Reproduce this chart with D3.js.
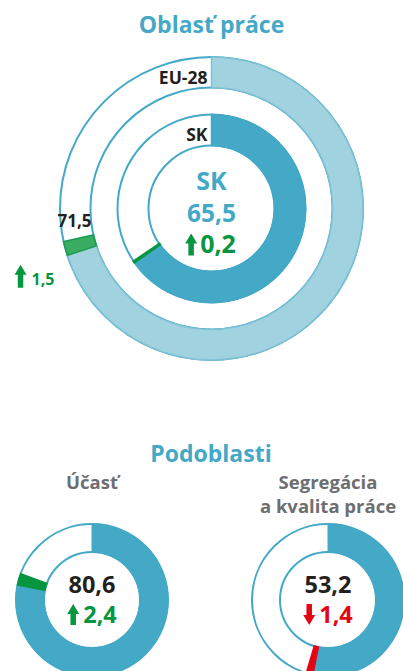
<!DOCTYPE html>
<html>
<head>
<meta charset="utf-8">
<script src="https://cdn.jsdelivr.net/npm/d3@7"></script>
<style>
  body { margin: 0; background: #fff; }
  text { font-family: "Open Sans", sans-serif; font-weight: 700; }
</style>
</head>
<body>
<svg width="403" height="671"></svg>
<script>
// data
var regions = ["EU-28", "SK"];
var areaValues = [71.5, 65.5];
var areaChanges = [1.5, 0.2];

var subNames = [["Účasť"], ["Segregácia", "a kvalita práce"]];
var subValues = [80.6, 53.2];
var subChanges = [2.4, -1.4];

var blue = "#44a8c7",
    lightBlue = "#a1d2e0",
    green = "#05963f",
    red = "#e30613",
    grey = "#6d6e71",
    dark = "#231f20";

var svg = d3.select("svg");
var fmt = d3.formatLocale({decimal: ",", thousands: " ", grouping: [3], currency: ["", ""]}).format(".1f");

// percent -> angle
var angle = d3.scaleLinear().domain([0, 100]).range([0, 2 * Math.PI]);

function arrowPath(x, bottom, h, up) {
  var w = 12, hh = 10, sw = 5.5;
  var top = bottom - h;
  if (up) {
    return "M" + (x + w / 2) + "," + top + "L" + (x + w) + "," + (top + hh) +
      "L" + (x + w / 2 + sw / 2) + "," + (top + hh) + "L" + (x + w / 2 + sw / 2) + "," + bottom +
      "L" + (x + w / 2 - sw / 2) + "," + bottom + "L" + (x + w / 2 - sw / 2) + "," + (top + hh) +
      "L" + x + "," + (top + hh) + "Z";
  }
  return "M" + (x + w / 2) + "," + bottom + "L" + (x + w) + "," + (bottom - hh) +
    "L" + (x + w / 2 + sw / 2) + "," + (bottom - hh) + "L" + (x + w / 2 + sw / 2) + "," + top +
    "L" + (x + w / 2 - sw / 2) + "," + top + "L" + (x + w / 2 - sw / 2) + "," + (bottom - hh) +
    "L" + x + "," + (bottom - hh) + "Z";
}

// arrow + number, centred on x (or starting at x when anchor = "start")
function changeLabel(g, x, y, change, size, h, gap, anchor) {
  var col = change >= 0 ? green : red;
  var t = g.append("text").attr("y", y).attr("font-size", size).attr("fill", col)
    .text(fmt(Math.abs(change)));
  var tw = t.node().getComputedTextLength();
  var total = 12 + gap + tw;
  var x0 = anchor === "start" ? x : x - total / 2;
  t.attr("x", x0 + 12 + gap);
  g.append("path").attr("d", arrowPath(x0, y + 2.5, h, change >= 0)).attr("fill", col);
}

// ---- Oblasť práce ----
var cx = 211.5, cy = 208.5;
var rings = [[121, 151.5], [63, 94]];

svg.append("text").attr("x", cx).attr("y", 33).attr("text-anchor", "middle")
  .attr("font-size", 23).attr("fill", blue).text("Oblasť práce");

var main = svg.append("g").attr("transform", "translate(" + cx + "," + cy + ")");

regions.forEach(function(name, i) {
  var r0 = rings[i][0], r1 = rings[i][1];
  var v = areaValues[i], c = areaChanges[i];
  var lo = Math.min(v, v - c), hi = Math.max(v, v - c);
  var arc = d3.arc().innerRadius(r0).outerRadius(r1);

  main.append("path")
    .attr("d", arc({startAngle: 0, endAngle: 2 * Math.PI}))
    .attr("fill", "#fff").attr("stroke", blue).attr("stroke-width", 2);

  main.append("path")
    .attr("d", arc({startAngle: 0, endAngle: angle(lo)}))
    .attr("fill", i === 0 ? lightBlue : blue)
    .attr("stroke", i === 0 ? "#7fc1d6" : blue).attr("stroke-width", 1.5);

  main.append("path")
    .attr("d", arc({startAngle: angle(lo), endAngle: angle(hi)}))
    .attr("fill", i === 0 ? "#3aad62" : green)
    .attr("stroke", i === 0 ? "#1c9b4c" : green).attr("stroke-width", i === 0 ? 1.5 : 2.5);

  // ring name just left of 12 o'clock
  main.append("text").attr("x", -4).attr("y", -r1 + 26.5).attr("text-anchor", "end")
    .attr("font-size", 17.5).attr("fill", dark).text(name);
});

// EU-28 value and change beside the green mark
var a = angle(areaValues[0]), rm = (rings[0][0] + rings[0][1]) / 2;
var px = rm * Math.sin(a), py = -rm * Math.cos(a);
main.append("text").attr("x", px - 4).attr("y", py - 11.5).attr("text-anchor", "middle")
  .attr("font-size", 17).attr("fill", dark).text(fmt(areaValues[0]));
changeLabel(main, px - 64, py + 47, areaChanges[0], 16, 23, 5, "start");

// centre
main.append("text").attr("x", 0).attr("y", -18.5).attr("text-anchor", "middle")
  .attr("font-size", 25).attr("fill", blue).text(regions[1]);
main.append("text").attr("x", 0).attr("y", 13.5).attr("text-anchor", "middle")
  .attr("font-size", 24.5).attr("fill", blue).text(fmt(areaValues[1]));
changeLabel(main, -1, 44.5, areaChanges[1], 25, 22, 3);

// ---- Podoblasti ----
svg.append("text").attr("x", 211).attr("y", 461.5).attr("text-anchor", "middle")
  .attr("font-size", 23).attr("fill", blue).text("Podoblasti");

var subX = d3.scalePoint().domain(d3.range(subValues.length)).range([92, 328]);
var subY = 600, sr0 = 48, sr1 = 76;
var sarc = d3.arc().innerRadius(sr0).outerRadius(sr1);

subValues.forEach(function(v, i) {
  var g = svg.append("g").attr("transform", "translate(" + subX(i) + "," + subY + ")");
  var c = subChanges[i];
  var lo = Math.min(v, v - c), hi = Math.max(v, v - c);
  var col = c >= 0 ? green : red;

  subNames[i].forEach(function(line, j) {
    g.append("text").attr("x", 0).attr("y", -111 + j * 23.5).attr("text-anchor", "middle")
      .attr("font-size", 18.5).attr("fill", grey).text(line);
  });

  g.append("path").attr("d", sarc({startAngle: 0, endAngle: 2 * Math.PI}))
    .attr("fill", "#fff").attr("stroke", blue).attr("stroke-width", 2);
  g.append("path").attr("d", sarc({startAngle: 0, endAngle: angle(lo)}))
    .attr("fill", blue).attr("stroke", blue).attr("stroke-width", 1);
  g.append("path").attr("d", sarc({startAngle: angle(lo), endAngle: angle(hi)}))
    .attr("fill", col).attr("stroke", col).attr("stroke-width", 1.5);

  g.append("text").attr("x", 0).attr("y", -7.5).attr("text-anchor", "middle")
    .attr("font-size", 23.5).attr("fill", dark).text(fmt(v));
  changeLabel(g, 0, 22.5, c, 23.5, 21, 4);
});
</script>
</body>
</html>
